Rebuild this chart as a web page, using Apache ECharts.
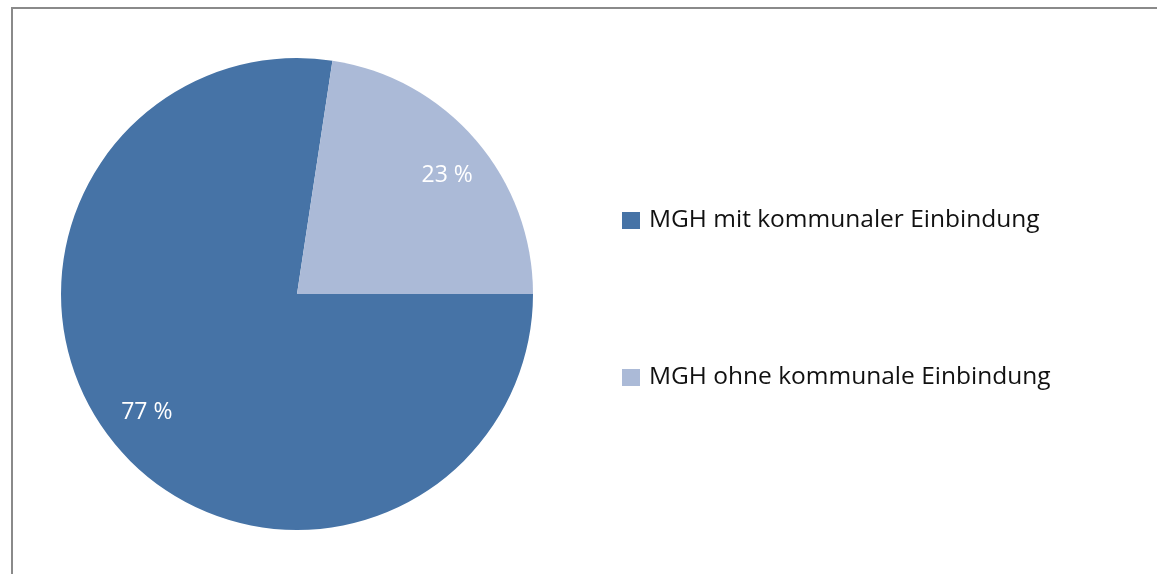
<!DOCTYPE html>
<html>
<head>
<meta charset="utf-8">
<script src="https://cdn.jsdelivr.net/npm/echarts@6/dist/echarts.min.js"></script>
<style>
  html, body {
    margin: 0;
    padding: 0;
    background: #ffffff;
  }
  .frame {
    position: absolute;
    left: 11px;
    top: 7px;
    width: 1146px;
    height: 567px;
    border-top: 2px solid #8a8a8a;
    border-left: 2px solid #8a8a8a;
    box-sizing: border-box;
  }
  #chart {
    position: absolute;
    left: 0;
    top: 0;
    width: 1157px;
    height: 574px;
  }
</style>
</head>
<body>
<div class="frame"></div>
<div id="chart"></div>
<script>
const categories = ['MGH mit kommunaler Einbindung', 'MGH ohne kommunale Einbindung']
const shares = [77.4, 22.6]
const colors = ['#4673a6', '#abbad7']

const chart = echarts.init(document.getElementById('chart'))

const pieData = categories.map((name, i) => ({
  name,
  value: shares[i],
  itemStyle: { color: colors[i] },
}))

chart.setOption({
  animation: false,
  legend: {
    orient: 'vertical',
    left: 617,
    top: 203,
    itemWidth: 18,
    itemHeight: 17,
    itemGap: 132,
    icon: 'rect',
    textStyle: {
      fontFamily: 'Open Sans',
      fontSize: 24.5,
      color: '#111111',
      padding: [0, 0, 0, 4],
    },
    data: categories,
  },
  series: [
    {
      // the pie itself
      type: 'pie',
      center: [297, 294],
      radius: 236,
      startAngle: 0,
      clockwise: true,
      silent: true,
      label: { show: false },
      labelLine: { show: false },
      data: pieData,
    },
    {
      // transparent ring, only used to place the % labels like the original
      type: 'pie',
      center: [297, 294],
      radius: [140, 236],
      startAngle: -2.5,
      clockwise: true,
      silent: true,
      legendHoverLink: false,
      itemStyle: { color: 'transparent' },
      label: {
        show: true,
        position: 'inside',
        formatter: (p) => Math.round(p.value) + ' %',
        color: '#ffffff',
        fontFamily: 'Open Sans',
        fontSize: 23,
      },
      labelLine: { show: false },
      data: shares.map((v, i) => ({ name: categories[i] + ' ', value: v })),
    },
  ],
})

window.addEventListener('resize', () => chart.resize())
</script>
</body>
</html>
